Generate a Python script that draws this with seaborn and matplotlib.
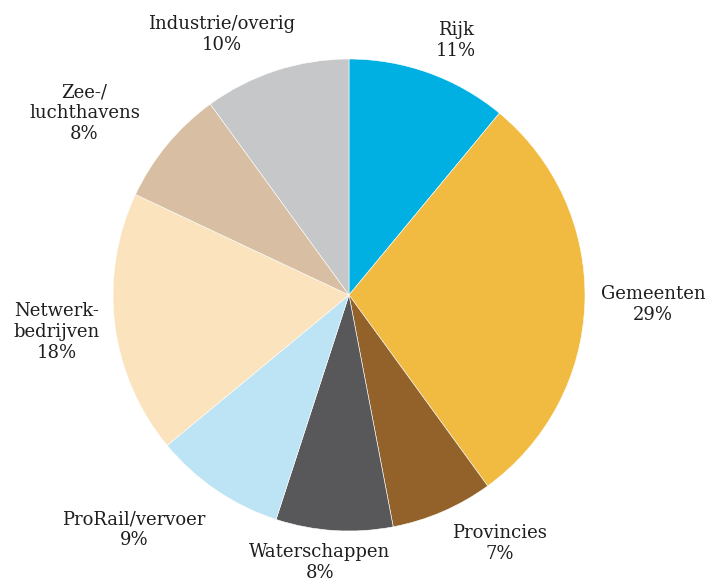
import numpy as np
import matplotlib
matplotlib.use("Agg")
import matplotlib.pyplot as plt
import seaborn as sns

# aandeel per partij (%)
labels = ["Rijk", "Gemeenten", "Provincies", "Waterschappen",
          "ProRail/vervoer", "Netwerk-\nbedrijven", "Zee-/\nluchthavens",
          "Industrie/overig"]
shares = [11, 29, 7, 8, 9, 18, 8, 10]
colors = ["#00b0e3", "#f0bb40", "#93622b", "#58585a",
          "#bde4f4", "#fae3bd", "#d8bfa3", "#c6c7c8"]

# plaats van de labels: afstand (in straal) en hoekverschuiving (graden)
label_dist = [1.17, 1.29, 1.23, 1.14, 1.35, 1.25, 1.36, 1.23]
label_shift = [-3.0, 0.0, 7.8, -2.6, -8.3, 0.0, 5.1, 8.0]

sns.set_theme(style="white")
plt.rcParams["font.family"] = ["DejaVu Serif"]

fig = plt.figure(figsize=(7.09, 5.81), dpi=100)
ax = fig.add_axes([0, 0, 1, 1])

wedges, _ = ax.pie(shares, colors=sns.color_palette(colors), startangle=90,
                   counterclock=False, radius=1.0,
                   wedgeprops=dict(edgecolor="white", linewidth=0.4))

for w, lab, pct, d, s in zip(wedges, labels, shares, label_dist, label_shift):
    ang = np.deg2rad((w.theta1 + w.theta2) / 2 + s)
    ax.text(d * np.cos(ang), d * np.sin(ang), f"{lab}\n{pct}%",
            ha="center", va="center", fontsize=13, color="#1e1e1e",
            linespacing=1.22)

ax.set_xlim(-349 / 236, (709 - 349) / 236)
ax.set_ylim(-286 / 236, (581 - 286) / 236)
ax.set_aspect("auto")
ax.axis("off")

fig.savefig("out.png", dpi=100)
